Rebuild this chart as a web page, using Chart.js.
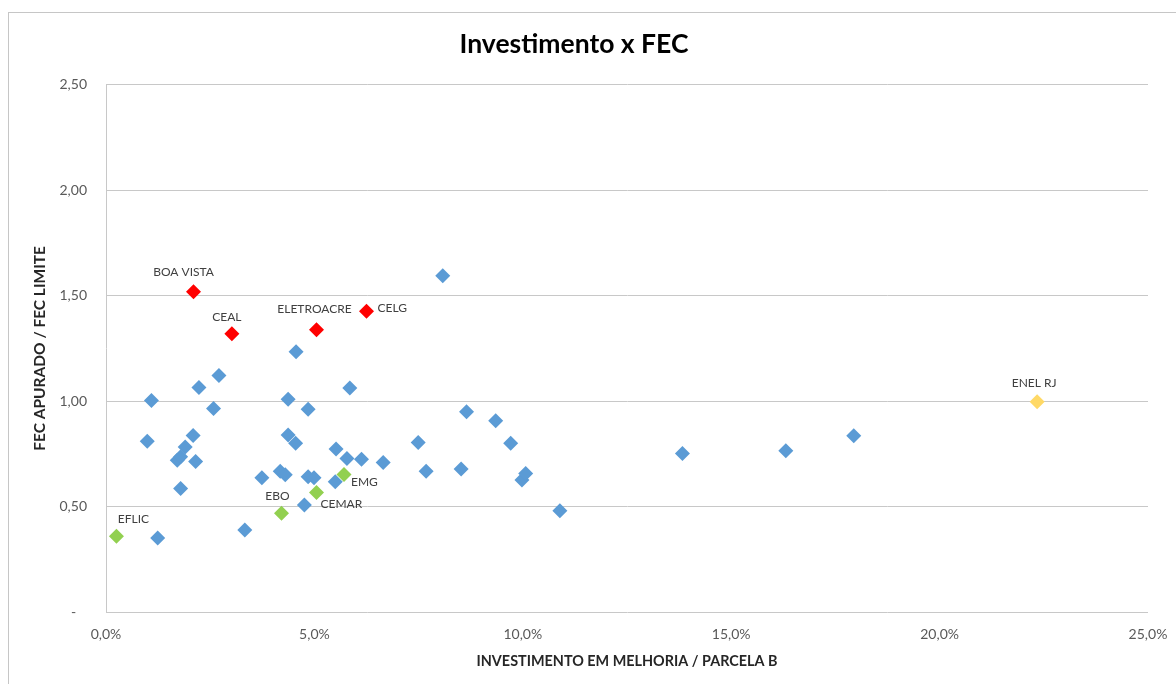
<!DOCTYPE html>
<html>
<head>
<meta charset="utf-8">
<script src="https://cdn.jsdelivr.net/npm/chart.js@4.4.1/dist/chart.umd.min.js"></script>
<style>
  html, body { margin: 0; padding: 0; background: #fff; overflow: hidden; }
  #wrap { position: relative; width: 1176px; height: 684px; }
  #frame {
    position: absolute; left: 8px; top: 12px; width: 1300px; height: 800px;
    border-left: 1px solid #c6c6c6; border-top: 1px solid #c6c6c6;
  }
  canvas { position: absolute; left: 0; top: 0; }
</style>
</head>
<body>
<div id="wrap">
  <div id="frame"></div>
  <canvas id="chart" width="1176" height="684"></canvas>
</div>
<script>
// Distribuidoras sem destaque (x = investimento em melhoria / parcela B, %)
const otherX = [1.09, 0.99, 2.09, 1.90, 1.71, 1.79, 2.15, 1.79, 1.24, 3.33,
  2.23, 2.71, 2.58, 3.74, 4.18, 4.30, 4.37, 4.37, 4.55, 4.56,
  4.85, 4.85, 4.99, 4.76, 5.50, 5.52, 5.78, 5.85, 6.13, 6.65,
  7.49, 7.68, 8.08, 8.52, 8.65, 9.35, 9.71, 9.98, 10.07, 10.89,
  13.83, 16.31, 17.94];
const otherY = [1.003, 0.810, 0.837, 0.783, 0.720, 0.736, 0.714, 0.586, 0.351, 0.389,
  1.065, 1.122, 0.965, 0.637, 0.667, 0.651, 1.009, 0.839, 0.800, 1.234,
  0.961, 0.641, 0.637, 0.507, 0.618, 0.773, 0.728, 1.062, 0.724, 0.709,
  0.804, 0.667, 1.594, 0.678, 0.950, 0.907, 0.800, 0.626, 0.657, 0.480,
  0.752, 0.765, 0.836];

const redNames = ['BOA VISTA', 'CEAL', 'ELETROACRE', 'CELG'];
const redX = [2.10, 3.02, 5.05, 6.25];
const redY = [1.519, 1.319, 1.338, 1.426];

const greenNames = ['EFLIC', 'EBO', 'CEMAR', 'EMG'];
const greenX = [0.25, 4.21, 5.05, 5.71];
const greenY = [0.359, 0.468, 0.567, 0.652];

const yellowNames = ['ENEL RJ'];
const yellowX = [22.34];
const yellowY = [0.997];

// label placement relative to the marker (style only)
const labelOffsets = {
  'BOA VISTA': [-10, -20, 'center'],
  'CEAL': [-5, -17, 'center'],
  'ELETROACRE': [-2, -21, 'center'],
  'CELG': [11, -3, 'left'],
  'EFLIC': [17, -17, 'center'],
  'EBO': [-4, -17, 'center'],
  'CEMAR': [4, 12, 'left'],
  'EMG': [7, 8, 'left'],
  'ENEL RJ': [-3, -19, 'center']
};

const font = 'Lato, "Open Sans", sans-serif';

function toPoints(xs, ys) {
  return xs.map((x, i) => ({ x: x, y: ys[i] }));
}

function makeSet(label, xs, ys, color, names) {
  return {
    label: label,
    data: toPoints(xs, ys),
    names: names || null,
    pointStyle: 'rectRot',
    pointRadius: 7.5,
    pointHoverRadius: 7.5,
    pointBackgroundColor: color,
    pointBorderWidth: 0,
    backgroundColor: color,
    showLine: false
  };
}

const pointLabels = {
  id: 'pointLabels',
  afterDatasetsDraw(chart) {
    const ctx = chart.ctx;
    ctx.save();
    ctx.font = '12px ' + font;
    ctx.fillStyle = '#404040';
    ctx.textBaseline = 'middle';
    chart.data.datasets.forEach((ds, di) => {
      if (!ds.names) return;
      const meta = chart.getDatasetMeta(di);
      ds.names.forEach((name, i) => {
        const el = meta.data[i];
        const off = labelOffsets[name] || [0, -18, 'center'];
        ctx.textAlign = off[2];
        ctx.fillText(name, el.x + off[0], el.y + off[1]);
      });
    });
    ctx.restore();
  }
};

const ctx = document.getElementById('chart').getContext('2d');
new Chart(ctx, {
  type: 'scatter',
  data: {
    datasets: [
      makeSet('Outras', otherX, otherY, '#5b9bd5'),
      makeSet('Destaque negativo', redX, redY, '#ff0000', redNames),
      makeSet('Destaque positivo', greenX, greenY, '#92d050', greenNames),
      makeSet('ENEL RJ', yellowX, yellowY, '#ffd966', yellowNames)
    ]
  },
  options: {
    responsive: false,
    animation: false,
    layout: { padding: { left: 0, right: 28, top: 0, bottom: 0 } },
    plugins: {
      legend: { display: false },
      tooltip: { enabled: false },
      title: {
        display: true,
        text: 'Investimento x FEC',
        color: '#000',
        font: { family: font, size: 26.5, weight: 'bold', lineHeight: 1.2 },
        padding: { top: 29, bottom: 24 }
      }
    },
    scales: {
      x: {
        type: 'linear',
        min: 0,
        max: 25,
        afterFit(scale) {
          scale.height = 72;
          scale.paddingLeft = 0;
          scale.paddingRight = 0;
        },
        ticks: {
          stepSize: 5,
          color: '#595959',
          padding: 14,
          font: { family: font, size: 14 },
          callback: v => v.toFixed(1).replace('.', ',') + '%'
        },
        grid: { display: false, drawTicks: false },
        border: { display: false },
        title: {
          display: true,
          text: 'INVESTIMENTO EM MELHORIA / PARCELA B',
          color: '#262626',
          font: { family: font, size: 14.4, weight: 'bold', lineHeight: 1.2 },
          padding: { top: 0, bottom: 14 }
        }
      },
      y: {
        type: 'linear',
        min: 0,
        max: 2.5,
        afterFit(scale) { scale.width = 106; },
        ticks: {
          stepSize: 0.5,
          color: '#595959',
          padding: 19,
          font: { family: font, size: 14 },
          callback: v => v === 0 ? '-   ' : v.toFixed(2).replace('.', ',')
        },
        grid: { color: '#c8c8c8', drawTicks: false, lineWidth: 1 },
        border: { display: true, color: '#c8c8c8' },
        title: {
          display: true,
          text: 'FEC APURADO / FEC LIMITE',
          color: '#262626',
          font: { family: font, size: 15.5, weight: 'bold', lineHeight: 1.2 },
          padding: { top: 31, bottom: 0 }
        }
      }
    }
  },
  plugins: [pointLabels]
});
</script>
</body>
</html>
